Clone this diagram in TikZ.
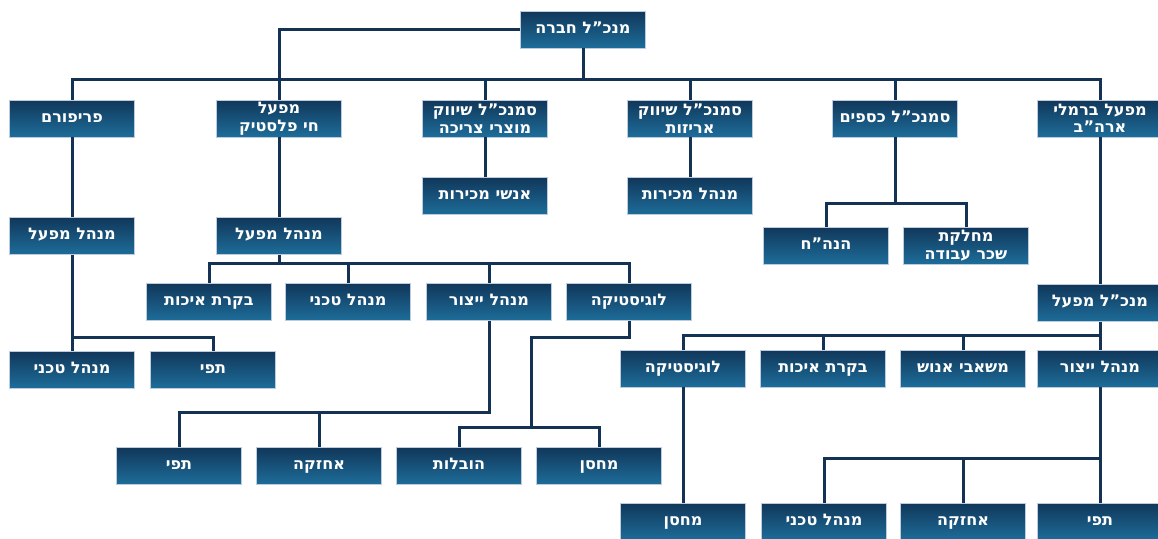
\documentclass[tikz,border=0pt]{standalone}
\usepackage{fontspec}
\newfontfamily\hebfont[Script=Hebrew]{DejaVu Sans}
\TeXXeTstate=1
\usepackage{xcolor}
\usetikzlibrary{positioning}

\definecolor{boxtop}{RGB}{17,55,90}
\definecolor{boxbot}{RGB}{29,109,154}
\definecolor{boxrim}{RGB}{188,204,222}
\definecolor{linkcol}{RGB}{19,50,84}

\newcommand{\heb}[1]{\beginR #1\endR}

\begin{document}
\begin{tikzpicture}[
        x=1pt, y=-1pt,
        orgbox/.style={
            rectangle, draw=boxrim, line width=0.6pt,
            top color=boxtop, bottom color=boxbot,
            minimum width=125pt, minimum height=37pt,
            inner sep=1pt, text=white, align=center,
            font=\hebfont\bfseries\fontsize{16}{17.5}\selectfont
        },
        unit/.style={orgbox, text height=8pt, text depth=1pt},
        unittwo/.style={orgbox},
        link/.style={draw=linkcol, line width=3pt}
    ]
    \useasboundingbox (0,0) rectangle (1158,538);
    % top and second row
    \node[unit] (ceo) at (583,29.5) {\heb{מנכ”ל חברה}};
    \node[unit] (periform) at (72,118.5) {\heb{פריפורם}};
    \node[unittwo] (plastic) at (279,118.5) {\heb{מפעל}\\\heb{חי פלסטיק}};
    \node[unittwo] (vpcons) at (485,118.5) {\heb{סמנכ”ל שיווק}\\\heb{מוצרי צריכה}};
    \node[unittwo] (vppack) at (690,118.5) {\heb{סמנכ”ל שיווק}\\\heb{אריזות}};
    \node[unit] (vpfin) at (895,118.5) {\heb{סמנכ”ל כספים}};
    \node[unittwo] (usa) at (1100,118.5) {\heb{מפעל ברמלי}\\\heb{ארה”ב}};
    % under the vice presidents
    \node[unit, below=40pt of vpcons] (salesppl) {\heb{אנשי מכירות}};
    \node[unit, below=40pt of vppack] (salesmgr) {\heb{מנהל מכירות}};
    \node[unit] (bookkeep) at (826,245.5) {\heb{הנה”ח}};
    \node[unittwo] (payroll) at (966,245.5) {\heb{מחלקת}\\\heb{שכר עבודה}};
    % plants
    \node[unit, below=80pt of periform] (pfplant) {\heb{מנהל מפעל}};
    \node[unit, below=80pt of plastic] (cpplant) {\heb{מנהל מפעל}};
    \node[unit, below=147pt of usa] (usaceo) {\heb{מנכ”ל מפעל}};
    \node[unit] (cpqa) at (209,302) {\heb{בקרת איכות}};
    \node[unit] (cptech) at (348,302) {\heb{מנהל טכני}};
    \node[unit] (cpprod) at (489,302) {\heb{מנהל ייצור}};
    \node[unit] (cplog) at (629,302) {\heb{לוגיסטיקה}};
    \node[unit] (pftech) at (72,369.5) {\heb{מנהל טכני}};
    \node[unit] (pftapi) at (213,369.5) {\heb{תפי}};
    \node[unit] (usalog) at (683,368.5) {\heb{לוגיסטיקה}};
    \node[unit] (usaqa) at (823,368.5) {\heb{בקרת איכות}};
    \node[unit] (usahr) at (963,368.5) {\heb{משאבי אנוש}};
    \node[unit] (usaprod) at (1100,368.5) {\heb{מנהל ייצור}};
    % bottom rows
    \node[unit] (cptapi) at (179,466) {\heb{תפי}};
    \node[unit] (cpmaint) at (319,466) {\heb{אחזקה}};
    \node[unit] (cpship) at (459,466) {\heb{הובלות}};
    \node[unit] (cpstore) at (599,466) {\heb{מחסן}};
    \node[unit] (usastore) at (683,521.5) {\heb{מחסן}};
    \node[unit] (usatech) at (824,521.5) {\heb{מנהל טכני}};
    \node[unit] (usamaint) at (963,521.5) {\heb{אחזקה}};
    \node[unit] (usatapi) at (1100,521.5) {\heb{תפי}};

    \coordinate (topbus) at (0,79);
    \coordinate (finbus) at (0,203.5);
    \coordinate (cpbus) at (0,263.5);
    \coordinate (pfbus) at (0,337);
    \coordinate (prodbus) at (0,412);
    \coordinate (logturn) at (531,337);
    \coordinate (logbus) at (0,427.5);
    \coordinate (usabus) at (0,335.5);
    \coordinate (usaprodbus) at (0,458.5);

    \draw[link] (ceo.west) -| (plastic.north);
    \draw[link] (ceo.south) -- (ceo.south |- topbus);
    \draw[link] (periform.north) |- (usa.north |- topbus) -- (usa.north);
    \foreach \n in {vpcons,vppack,vpfin}
        \draw[link] (\n.north) -- (\n.north |- topbus);
    \draw[link] (vpcons) -- (salesppl);
    \draw[link] (vppack) -- (salesmgr);
    \draw[link] (vpfin.south) -- (vpfin.south |- finbus);
    \draw[link] (bookkeep.north) |- (payroll.north |- finbus) -- (payroll.north);
    \draw[link] (periform) -- (pfplant);
    \draw[link] (plastic) -- (cpplant);
    \draw[link] (usa) -- (usaceo);
    % periform plant
    \draw[link] (pfplant) -- (pftech);
    \draw[link] (pftech.north |- pfbus) -| (pftapi.north);
    % plastic plant
    \draw[link] (cpplant.south) -- (cpplant.south |- cpbus);
    \draw[link] (cpqa.north) |- (cplog.north |- cpbus) -- (cplog.north);
    \foreach \n in {cptech,cpprod}
        \draw[link] (\n.north) -- (\n.north |- cpbus);
    \draw[link] (cpprod.south) |- (cptapi.north |- prodbus) -- (cptapi.north);
    \draw[link] (cpmaint.north) -- (cpmaint.north |- prodbus);
    \draw[link] (cplog.south) |- (logturn) |- (cpship.north |- logbus) -- (cpship.north);
    \draw[link] (logturn |- logbus) -| (cpstore.north);
    % usa plant
    \draw[link] (usaceo) -- (usaprod);
    \draw[link] (usalog.north) |- (usaprod.north |- usabus);
    \foreach \n in {usaqa,usahr}
        \draw[link] (\n.north) -- (\n.north |- usabus);
    \draw[link] (usalog) -- (usastore);
    \draw[link] (usaprod) -- (usatapi);
    \draw[link] (usatech.north) |- (usatapi.north |- usaprodbus);
    \draw[link] (usamaint.north) -- (usamaint.north |- usaprodbus);
\end{tikzpicture}
\end{document}
